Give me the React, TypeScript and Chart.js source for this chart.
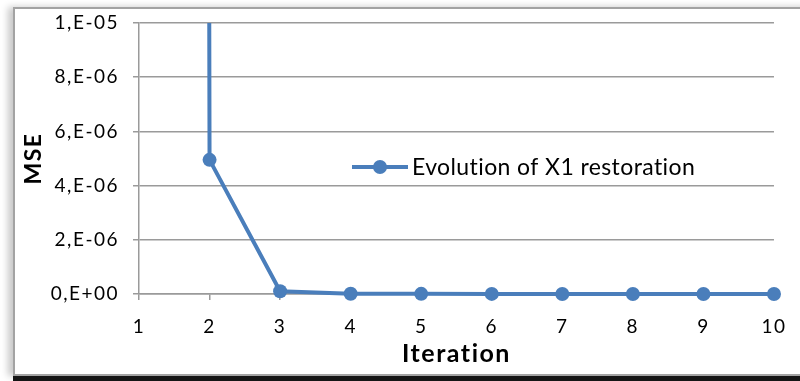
import React, { useEffect, useRef } from "react";
import { Chart, registerables } from "chart.js";

Chart.register(...registerables);

// Iteration number on the x axis
const iterations = ["1", "2", "3", "4", "5", "6", "7", "8", "9", "10"];
// Mean squared error after each iteration (the first one lies far above the visible range)
const mseValues = [2.5e-3, 4.95e-6, 1.0e-7, 1e-8, 5e-9, 3e-9, 2e-9, 1e-9, 1e-9, 1e-9];
// Y range and step
const yMin = 0;
const yMax = 1e-5;
const yStep = 2e-6;

const seriesName = "Evolution of X1 restoration";
const xTitle = "Iteration";
const yTitle = "MSE";

const BLUE = "#4a7ebb";
const GRID = "#9a9a9a";
const FONT = "Lato, 'Open Sans', sans-serif";

// Excel-style scientific label: 2e-6 -> "2,E-06"
function sciLabel(v: number): string {
  if (Math.abs(v) < 1e-15) return "0,E+00";
  let exp = Math.floor(Math.log10(Math.abs(v)) + 1e-9);
  let m = Math.round(v / Math.pow(10, exp));
  if (m >= 10) {
    m = m / 10;
    exp += 1;
  }
  const sign = exp < 0 ? "-" : "+";
  const e = String(Math.abs(exp)).padStart(2, "0");
  return `${m},E${sign}${e}`;
}

// Slightly looser letter spacing for the axis text
const axisTextSpacing = {
  id: "axisTextSpacing",
  beforeDraw(chart: any) {
    chart.ctx.letterSpacing = "1.5px";
  },
  beforeDatasetsDraw(chart: any) {
    chart.ctx.letterSpacing = "0px";
  },
};

// Legend drawn inside the plot area
const innerLegend = {
  id: "innerLegend",
  afterDraw(chart: any) {
    const { ctx, chartArea } = chart;
    const x0 = chartArea.left + 213;
    const y0 = chartArea.top + 144;
    ctx.save();
    ctx.letterSpacing = "0.4px";
    ctx.strokeStyle = BLUE;
    ctx.lineWidth = 4;
    ctx.beginPath();
    ctx.moveTo(x0, y0);
    ctx.lineTo(x0 + 56, y0);
    ctx.stroke();
    ctx.fillStyle = BLUE;
    ctx.beginPath();
    ctx.arc(x0 + 28, y0, 7, 0, Math.PI * 2);
    ctx.fill();
    ctx.fillStyle = "#000";
    ctx.font = `23px ${FONT}`;
    ctx.textBaseline = "middle";
    ctx.textAlign = "left";
    ctx.fillText(seriesName, x0 + 60, y0 + 1);
    ctx.restore();
  },
};

export default function App() {
  const canvasRef = useRef<HTMLCanvasElement | null>(null);

  useEffect(() => {
    const canvas = canvasRef.current;
    if (!canvas) return;
    const chart = new Chart(canvas, {
      type: "line",
      data: {
        labels: iterations,
        datasets: [
          {
            label: seriesName,
            data: mseValues,
            borderColor: BLUE,
            backgroundColor: BLUE,
            borderWidth: 4,
            pointRadius: 7,
            pointHoverRadius: 7,
            pointBackgroundColor: BLUE,
            pointBorderColor: BLUE,
            pointBorderWidth: 0,
            tension: 0,
            clip: { left: 12, right: 12, top: 0, bottom: 12 } as any,
          },
        ],
      },
      plugins: [axisTextSpacing, innerLegend],
      options: {
        responsive: false,
        animation: false,
        events: [],
        layout: { padding: { left: 13, top: 23, right: 24, bottom: 0 } },
        plugins: {
          legend: { display: false },
          tooltip: { enabled: false },
        },
        scales: {
          x: {
            type: "category",
            offset: false,
            afterFit(scale: any) {
              scale.height = 87;
            },
            grid: {
              drawOnChartArea: false,
              drawTicks: true,
              tickLength: 6,
              color: GRID,
              lineWidth: 1.5,
            },
            border: { display: true, color: GRID, width: 1.5 },
            ticks: {
              color: "#000",
              font: { family: FONT, size: 19 },
              padding: 15,
              maxRotation: 0,
              autoSkip: false,
            },
            title: {
              display: true,
              text: xTitle,
              color: "#000",
              font: { family: FONT, size: 25, weight: "bold" },
              padding: { top: 0, bottom: 12 },
            },
          },
          y: {
            type: "linear",
            min: yMin,
            max: yMax,
            afterFit(scale: any) {
              scale.width = 126;
              scale.paddingTop = 0;
              scale.paddingBottom = 0;
            },
            grid: {
              drawOnChartArea: true,
              drawTicks: true,
              tickLength: 6,
              color: GRID,
              lineWidth: 1.5,
            },
            border: { display: true, color: GRID, width: 1.5 },
            ticks: {
              stepSize: yStep,
              color: "#000",
              font: { family: FONT, size: 19 },
              padding: 14,
              callback: (v: any) => sciLabel(Number(v)),
            },
            title: {
              display: true,
              text: yTitle,
              color: "#000",
              font: { family: FONT, size: 23, weight: "bold" },
              padding: { top: 7, bottom: 0 },
            },
          },
        },
      },
    });
    return () => chart.destroy();
  }, []);

  return (
    <div
      style={{
        position: "fixed",
        left: 0,
        top: 0,
        width: 800,
        height: 381,
        overflow: "hidden",
        background: "#fff",
      }}
    >
      <div
        style={{
          position: "absolute",
          left: 13,
          top: 7,
          width: 800,
          height: 369,
          boxSizing: "border-box",
          border: "2px solid #a3a3a3",
          boxShadow: "-5px 0 7px rgba(0,0,0,0.22)",
          background: "#fff",
        }}
      />
      <div
        style={{
          position: "absolute",
          left: 13,
          top: 376,
          width: 800,
          height: 5,
          background: "#151515",
        }}
      />
      <canvas
        ref={canvasRef}
        width={800}
        height={381}
        style={{ position: "absolute", left: 0, top: 0, width: 800, height: 381 }}
      />
    </div>
  );
}
